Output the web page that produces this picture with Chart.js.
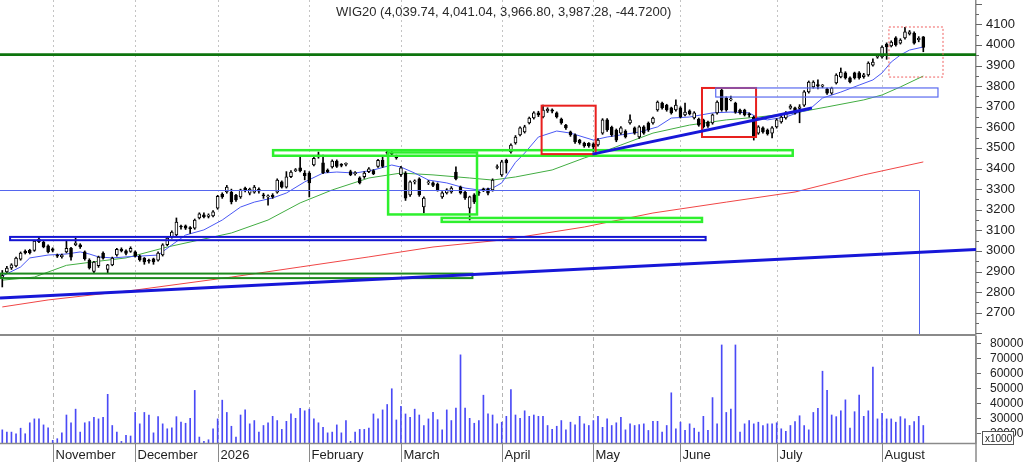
<!DOCTYPE html>
<html lang="en">
<head>
<meta charset="UTF-8">
<title>WIG20</title>
<script src="https://cdn.jsdelivr.net/npm/chart.js"></script>
<style>
  html, body { margin: 0; padding: 0; background: #fff; }
  #wrap { position: relative; width: 1024px; height: 462px; overflow: hidden; }
  canvas { position: absolute; left: 0; }
  #price { top: 0; }
  #volume { top: 336px; }
</style>
</head>
<body>
<div id="wrap">
  <canvas id="price" width="1024" height="336"></canvas>
  <canvas id="volume" width="1024" height="126"></canvas>
</div>
<script>
// daily candles (index 0 = first candle on the left)
const opens = [2870,2898,2918,2927,2960,2998,3003,3003,3045,3043,3025,3010,2978,2972,2995,3012,3030,3030,2995,2956,
  2900,2928,2990,2910,2932,2980,3008,3000,2998,2995,2975,2965,2955,2962,2955,2980,3030,3068,3078,3118,
  3122,3112,3110,3160,3175,3168,3170,3208,3275,3286,3285,3270,3262,3305,3280,3285,3300,3272,3262,3270,
  3285,3335,3310,3360,3390,3403,3378,3378,3417,3456,3428,3393,3408,3436,3418,3420,3385,3375,3355,3360,
  3385,3390,3410,3440,3480,3478,3460,3370,3378,3272,3335,3350,3213,3330,3330,3325,3262,3282,3286,3383,
  3310,3286,3208,3272,3285,3298,3300,3296,3405,3369,3441,3480,3524,3563,3578,3621,3645,3670,3650,3680,
  3685,3670,3640,3611,3578,3563,3538,3524,3522,3520,3514,3572,3636,3600,3587,3572,3582,3621,3597,3553,
  3602,3621,3621,3684,3718,3708,3694,3684,3694,3660,3680,3645,3640,3636,3626,3621,3670,3781,3742,3733,
  3718,3684,3684,3665,3650,3572,3597,3587,3572,3602,3626,3645,3693,3694,3692,3708,3772,3796,3808,3800,
  3786,3766,3815,3845,3864,3840,3864,3864,3846,3854,3902,3940,3942,4004,3995,4034,4009,4034,4053,4058,
  4025,4039.74];
const highs = [2905,2925,2938,2970,2995,3005,3008,3052,3068,3050,3030,3015,2985,2985,3050,3018,3062,3035,3000,2962,
  2950,2975,2995,2935,2970,3012,3015,3005,3020,3000,2980,2968,2960,2965,2995,3035,3068,3098,3160,3125,
  3126,3118,3155,3185,3185,3180,3196,3270,3282,3318,3300,3275,3300,3310,3305,3318,3306,3280,3272,3278,
  3350,3340,3385,3390,3400,3455,3390,3385,3455,3480,3465,3398,3442,3442,3424,3428,3392,3385,3360,3385,
  3404,3395,3445,3460,3488,3484,3465,3410,3385,3340,3345,3355,3262,3342,3335,3330,3288,3302,3312,3408,
  3315,3290,3266,3278,3292,3305,3305,3350,3418,3440,3446,3520,3560,3602,3610,3650,3676,3678,3708,3695,
  3690,3675,3645,3615,3582,3568,3542,3528,3526,3525,3545,3642,3642,3606,3592,3604,3588,3660,3602,3608,
  3608,3626,3650,3728,3722,3712,3698,3733,3700,3718,3685,3676,3645,3640,3630,3665,3728,3786,3748,3752,
  3722,3688,3688,3670,3655,3608,3602,3592,3604,3642,3655,3676,3710,3698,3710,3778,3825,3826,3830,3808,
  3790,3795,3860,3888,3870,3845,3868,3870,3862,3918,3932,3952,3996,4010,4020,4040,4030,4085,4070,4064,
  4040,4041.04];
const lows = [2825,2892,2910,2922,2955,2985,2985,2998,3040,3015,2990,2995,2968,2965,2990,2955,3025,3012,2955,2912,
  2895,2920,2960,2890,2928,2975,2995,2980,2993,2970,2950,2935,2940,2935,2950,2975,3025,3062,3072,3105,
  3104,3085,3105,3155,3160,3160,3165,3202,3255,3280,3228,3240,3255,3286,3272,3280,3280,3255,3222,3255,
  3280,3305,3305,3355,3385,3383,3345,3262,3412,3450,3375,3380,3402,3405,3408,3412,3365,3368,3325,3352,
  3380,3370,3405,3405,3468,3462,3445,3362,3245,3265,3325,3265,3185,3322,3312,3290,3255,3276,3280,3345,
  3276,3250,3150,3230,3270,3288,3272,3290,3398,3362,3378,3475,3518,3558,3572,3616,3640,3652,3645,3672,
  3670,3645,3615,3590,3556,3522,3518,3503,3503,3480,3508,3566,3580,3556,3530,3566,3548,3615,3566,3546,
  3566,3580,3615,3678,3688,3678,3664,3678,3645,3655,3660,3640,3605,3596,3600,3615,3664,3678,3678,3728,
  3668,3664,3655,3650,3538,3566,3572,3562,3548,3596,3620,3640,3688,3664,3622,3702,3766,3790,3786,3792,
  3760,3760,3810,3840,3834,3815,3834,3834,3838,3848,3897,3935,3936,3930,3990,3994,4004,4028,4048,4004,
  4015,3966.80];
const closes = [2880,2917,2932,2965,2990,2990,2992,3048,3058,3020,2995,3003,2975,2980,3012,2970,3038,3020,2962,2918,
  2946,2970,2965,2932,2965,3008,3000,2988,3012,2975,2956,2946,2950,2946,2990,3030,3062,3092,3140,3116,
  3110,3108,3150,3180,3165,3174,3190,3265,3262,3310,3238,3248,3296,3292,3300,3310,3290,3268,3265,3262,
  3344,3310,3360,3383,3395,3388,3365,3330,3450,3466,3380,3385,3436,3410,3415,3421,3370,3378,3330,3378,
  3398,3375,3440,3410,3474,3470,3452,3403,3256,3335,3338,3272,3257,3335,3318,3296,3282,3296,3305,3350,
  3282,3257,3262,3238,3280,3296,3280,3344,3408,3432,3427,3514,3553,3597,3602,3645,3670,3660,3684,3688,
  3678,3650,3621,3597,3563,3529,3524,3510,3510,3505,3538,3636,3587,3563,3538,3597,3553,3636,3572,3602,
  3572,3587,3645,3722,3694,3684,3670,3708,3650,3674,3665,3670,3611,3602,3606,3660,3722,3684,3684,3738,
  3674,3670,3660,3660,3553,3602,3578,3568,3597,3636,3650,3670,3703,3670,3700,3772,3820,3820,3800,3802,
  3766,3790,3854,3868,3840,3820,3840,3840,3855,3912,3917,3945,3990,3990,4014,4000,4024,4063,4063,4009,
  4032,3987.28];
// volume (x1000)
const volumes = [22300,20800,20800,19700,23400,19700,27000,29600,29600,25600,23600,15300,16400,20300,32200,27000,36100,20800,27000,27800,
  30700,29600,30700,46000,25200,20800,14600,18600,18200,33900,26300,33900,32200,20300,31100,26300,23000,23600,31100,27400,
  26700,30000,48600,17500,14600,15700,23000,29600,42100,33900,24700,17500,32200,35600,26300,28500,20800,25200,27000,31300,
  28500,22600,28000,32900,30000,36600,35000,36100,29600,27000,24000,20300,20800,25600,20300,28500,14600,20800,22600,22600,
  23400,32900,29600,35600,39200,49700,28900,37900,32900,30700,36100,32200,25200,29600,33900,29100,22300,35600,28500,36800,
  72300,36800,30000,26700,28500,45400,32900,32200,26300,27400,31300,49200,32200,30000,35000,31300,32200,31300,31300,25200,
  22600,24700,28500,22300,27400,25600,31300,26300,25200,28500,31300,24000,29600,25200,27000,30700,22300,26300,25200,25800,
  26300,21900,28000,28000,20800,25200,47000,23000,27400,21900,26300,23400,20800,31300,21900,43800,26300,78900,33900,36100,
  78900,20800,26300,28500,26300,27400,25200,26300,26300,27000,23000,21300,25200,27800,31700,25200,22300,33900,36600,61400,
  48600,32200,31100,35000,42300,23400,34400,45400,31300,35000,64200,29600,33300,29600,29600,27400,31100,29600,25200,27800,
  31300,25200];

// moving averages: [candle index, value]
const maShort = [[0,2878],[4,2922],[6,2966],[10,2980],[14,2985],[17,2995],[19,2985],[21,2971],[24,2966],[27,2971],
  [34,2980],[37,3029],[40,3077],[44,3102],[48,3150],[52,3213],[55,3237],[59,3257],[62,3281],[66,3335],[70,3378],
  [73,3383],[77,3378],[81,3393],[85,3417],[87,3407],[90,3378],[93,3344],[97,3330],[101,3305],[104,3296],[107,3305],
  [109,3330],[112,3430],[114,3475],[117,3553],[121,3582],[124,3572],[129,3538],[132,3553],[135,3563],[139,3577],
  [143,3602],[146,3645],[150,3650],[155,3670],[159,3674],[163,3670],[165,3645],[167,3636],[171,3650],[174,3674],
  [176,3684],[179,3742],[183,3771],[187,3805],[190,3830],[192,3864],[194,3917],[196,3951],[198,3975],[201,3990]];
const maMid = [[0,2858],[7,2873],[14,2930],[21,2950],[27,2966],[36,3019],[43,3053],[50,3087],[58,3150],[65,3233],
  [72,3296],[80,3354],[87,3378],[94,3369],[102,3354],[107,3344],[112,3359],[120,3393],[127,3451],[131,3480],
  [135,3514],[142,3572],[150,3611],[158,3636],[165,3650],[173,3670],[180,3699],[188,3733],[192,3757],[196,3796],[201,3849]];
const maLong = [[0,2728],[10,2762],[29,2810],[50,2873],[65,2922],[80,2971],[94,3019],[109,3053],[127,3116],
  [142,3184],[158,3237],[173,3286],[188,3369],[201,3432]];

const priceTicks = [2700,2800,2900,3000,3100,3200,3300,3400,3500,3600,3700,3800,3900,4000,4100];
const volumeTicks = [20000,30000,40000,50000,60000,70000,80000];
const monthNames = ['November','December','2026','February','March','April','May','June','July','August'];
const monthStart = [11,29,47,67,87,109,129,148,169,192];
const emptySlots = 11;

// drawn studies, in chart units: [fromIndex, toIndex, lowPrice, highPrice]
const resistance = 3953;
const longTrend = [[-0.5, 2771], [212.5, 3007]];
const shortTrend = [[128.8, 3470], [176.7, 3694]];
const supportCorner = [200.1, 3296];
const limeBoxes = [[59.1, 172.5, 3462, 3489], [84.2, 103.6, 3177, 3478], [95.9, 152.7, 3141, 3160]];
const redBoxes = [[117.7, 129.5, 3470, 3705], [152.7, 164.5, 3553, 3791]];
const blueBand = [1.7, 153.5, 3052, 3068];
const greenBand = [-0.5, 102.6, 2868, 2890];
const thinBlueBox = [155.7, 204.2, 3747, 3791];
const dottedBox = [193.5, 205.3, 3844, 4087];

const family = "'Liberation Sans', Arial, sans-serif";
const slots = Array.from({ length: closes.length + emptySlots }, (_, i) => i);

function sparse(points) {
  const out = new Array(closes.length).fill(null);
  points.forEach(([i, v]) => { out[i] = v; });
  return out;
}

function px(chart, i) { return chart.scales.x.getPixelForValue(i); }
function py(chart, v) { return chart.scales.y.getPixelForValue(v); }

function strokeBox(ctx, chart, b) {
  const x1 = px(chart, b[0]), x2 = px(chart, b[1]);
  const y1 = py(chart, b[3]), y2 = py(chart, b[2]);
  ctx.strokeRect(x1, y1, x2 - x1, y2 - y1);
}

function line(ctx, chart, a, b) {
  ctx.beginPath();
  ctx.moveTo(px(chart, a[0]), py(chart, a[1]));
  ctx.lineTo(px(chart, b[0]), py(chart, b[1]));
  ctx.stroke();
}

const last = closes.length - 1;
const fmt = v => v.toLocaleString('en-US', { minimumFractionDigits: 2, maximumFractionDigits: 2 });
const titleText = 'WIG20 (' + fmt(opens[last]) + ', ' + fmt(highs[last]) + ', ' + fmt(lows[last]) + ', ' +
  fmt(closes[last]) + ', ' + (closes[last] - closes[last - 1]).toFixed(4) + ')';

const priceDecor = {
  id: 'priceDecor',
  beforeDatasetsDraw(chart) {
    const { ctx, chartArea: a } = chart;
    ctx.save();
    ctx.strokeStyle = '#c4c4c4';
    ctx.lineWidth = 1;
    ctx.setLineDash([2, 3]);
    monthStart.forEach(i => {
      const x = Math.round(px(chart, i)) + 0.5;
      ctx.beginPath(); ctx.moveTo(x, a.top); ctx.lineTo(x, a.bottom); ctx.stroke();
    });
    ctx.restore();
  },
  afterDatasetsDraw(chart) {
    const { ctx, chartArea: a } = chart;
    ctx.save();
    ctx.beginPath();
    ctx.rect(a.left, a.top, a.right - a.left, a.bottom - a.top);
    ctx.clip();

    // thin support line turning down
    ctx.strokeStyle = '#5566ee';
    ctx.lineWidth = 1;
    const sy = Math.round(py(chart, supportCorner[1])) + 0.5;
    const sx = Math.round(px(chart, supportCorner[0])) + 0.5;
    ctx.beginPath(); ctx.moveTo(a.left, sy); ctx.lineTo(sx, sy); ctx.lineTo(sx, a.bottom); ctx.stroke();

    // bands
    ctx.lineWidth = 2;
    ctx.strokeStyle = '#1d8a1d';
    strokeBox(ctx, chart, greenBand);
    ctx.strokeStyle = '#1414d2';
    strokeBox(ctx, chart, blueBand);

    ctx.lineWidth = 2.5;
    ctx.strokeStyle = '#2ef02e';
    limeBoxes.forEach(b => strokeBox(ctx, chart, b));

    ctx.lineWidth = 2;
    ctx.strokeStyle = '#e8201e';
    redBoxes.forEach(b => strokeBox(ctx, chart, b));

    ctx.lineWidth = 1.2;
    ctx.strokeStyle = '#5a6af0';
    strokeBox(ctx, chart, thinBlueBox);

    // trend lines
    ctx.lineWidth = 3;
    ctx.strokeStyle = '#1717d8';
    line(ctx, chart, longTrend[0], longTrend[1]);
    line(ctx, chart, shortTrend[0], shortTrend[1]);

    // resistance
    ctx.lineWidth = 2.6;
    ctx.strokeStyle = '#0d740d';
    const ry = py(chart, resistance);
    ctx.beginPath(); ctx.moveTo(a.left, ry); ctx.lineTo(a.right, ry); ctx.stroke();

    // dotted box round the last days
    ctx.lineWidth = 1;
    ctx.strokeStyle = '#f06060';
    ctx.setLineDash([2, 2]);
    strokeBox(ctx, chart, dottedBox);
    ctx.setLineDash([]);
    ctx.restore();

    // panel separator and minor ticks
    ctx.save();
    ctx.fillStyle = '#8a8a8a';
    ctx.fillRect(0, a.bottom - 2, a.right, 2);
    ctx.strokeStyle = '#666';
    ctx.lineWidth = 1;
    for (let v = 2600; v <= 4200; v += 50) {
      const y = Math.round(py(chart, v)) + 0.5;
      if (y < a.top || y > a.bottom) continue;
      ctx.beginPath(); ctx.moveTo(a.right, y); ctx.lineTo(a.right + (v % 100 === 0 ? 6 : 3), y); ctx.stroke();
    }
    ctx.fillStyle = '#2a2a2a';
    ctx.font = '13px ' + family;
    ctx.textBaseline = 'alphabetic';
    ctx.fillText(titleText, 336, 16);
    ctx.restore();
  }
};

const volumeDecor = {
  id: 'volumeDecor',
  beforeDatasetsDraw(chart) {
    const { ctx, chartArea: a } = chart;
    ctx.save();
    ctx.strokeStyle = '#b4b4b4';
    ctx.lineWidth = 1;
    ctx.setLineDash([4, 3]);
    monthStart.forEach(i => {
      const x = Math.round(px(chart, i)) + 0.5;
      ctx.beginPath(); ctx.moveTo(x, a.top); ctx.lineTo(x, a.bottom); ctx.stroke();
    });
    ctx.restore();
  },
  afterDraw(chart) {
    const { ctx, chartArea: a, height } = chart;
    ctx.save();
    ctx.strokeStyle = '#8a8a8a';
    ctx.lineWidth = 1.5;
    ctx.beginPath(); ctx.moveTo(0, a.bottom + 0.5); ctx.lineTo(a.right, a.bottom + 0.5); ctx.stroke();
    ctx.beginPath(); ctx.moveTo(a.right, 0); ctx.lineTo(a.right, height); ctx.stroke();
    ctx.lineWidth = 1;
    ctx.font = '13px ' + family;
    ctx.fillStyle = '#1e1e1e';
    monthStart.forEach((i, k) => {
      const x = Math.round(px(chart, i)) + 0.5;
      ctx.beginPath(); ctx.moveTo(x, a.bottom); ctx.lineTo(x, height); ctx.stroke();
      ctx.fillText(monthNames[k], x + 2, a.bottom + 16);
    });
    // units box
    ctx.fillStyle = '#fff';
    ctx.fillRect(a.right + 6, a.bottom - 12, 32, 14);
    ctx.strokeStyle = '#555';
    ctx.strokeRect(a.right + 6.5, a.bottom - 11.5, 31, 13);
    ctx.fillStyle = '#222';
    ctx.font = '10px ' + family;
    ctx.fillText('x1000', a.right + 9, a.bottom - 1);
    ctx.restore();
  }
};

const zeroPad = s => { s.width = 48; s.paddingTop = 0; s.paddingBottom = 0; };
const plainLabel = v => String(v);

new Chart(document.getElementById('price'), {
  type: 'bar',
  data: {
    labels: slots,
    datasets: [
      { type: 'line', data: sparse(maShort), borderColor: '#4a58f4', borderWidth: 1, pointRadius: 0, spanGaps: true, order: 3 },
      { type: 'line', data: sparse(maMid), borderColor: '#42ad42', borderWidth: 1, pointRadius: 0, spanGaps: true, order: 4 },
      { type: 'line', data: sparse(maLong), borderColor: '#f04646', borderWidth: 1, pointRadius: 0, spanGaps: true, order: 5 },
      { data: lows.map((l, i) => [l, highs[i]]), backgroundColor: '#000', barThickness: 1, grouped: false, order: 2 },
      {
        data: opens.map((o, i) => [o, closes[i]]),
        backgroundColor: ctx => (closes[ctx.dataIndex] >= opens[ctx.dataIndex] ? '#fff' : '#000'),
        borderColor: '#000', borderWidth: 1, borderSkipped: false,
        barThickness: 3, minBarLength: 1, grouped: false, order: 1
      }
    ]
  },
  options: {
    responsive: false, animation: false, events: [],
    layout: { padding: 0 },
    plugins: { legend: { display: false }, tooltip: { enabled: false } },
    scales: {
      x: { display: false },
      y: {
        position: 'right', min: 2587, max: 4218,
        afterBuildTicks: s => { s.ticks = priceTicks.map(v => ({ value: v })); },
        afterFit: zeroPad,
        ticks: { font: { family: family, size: 13 }, color: '#222', padding: 10, callback: plainLabel },
        grid: { drawOnChartArea: false, drawTicks: false },
        border: { display: true, color: '#8a8a8a', width: 1.5 }
      }
    }
  },
  plugins: [priceDecor]
});

new Chart(document.getElementById('volume'), {
  type: 'bar',
  data: {
    labels: slots,
    datasets: [{ data: volumes, backgroundColor: '#4a4af6', barThickness: 1 }]
  },
  options: {
    responsive: false, animation: false, events: [],
    layout: { padding: { top: 1, bottom: 19 } },
    plugins: { legend: { display: false }, tooltip: { enabled: false } },
    scales: {
      x: { display: false },
      y: {
        position: 'right', min: 13533, max: 84200,
        afterBuildTicks: s => { s.ticks = volumeTicks.map(v => ({ value: v })); },
        afterFit: zeroPad,
        ticks: { font: { family: family, size: 12 }, color: '#222', padding: 9, callback: plainLabel },
        grid: { drawOnChartArea: false, drawTicks: true, tickLength: 5, color: '#666' },
        border: { display: true, color: '#8a8a8a', width: 1.5 }
      }
    }
  },
  plugins: [volumeDecor]
});
</script>
</body>
</html>
